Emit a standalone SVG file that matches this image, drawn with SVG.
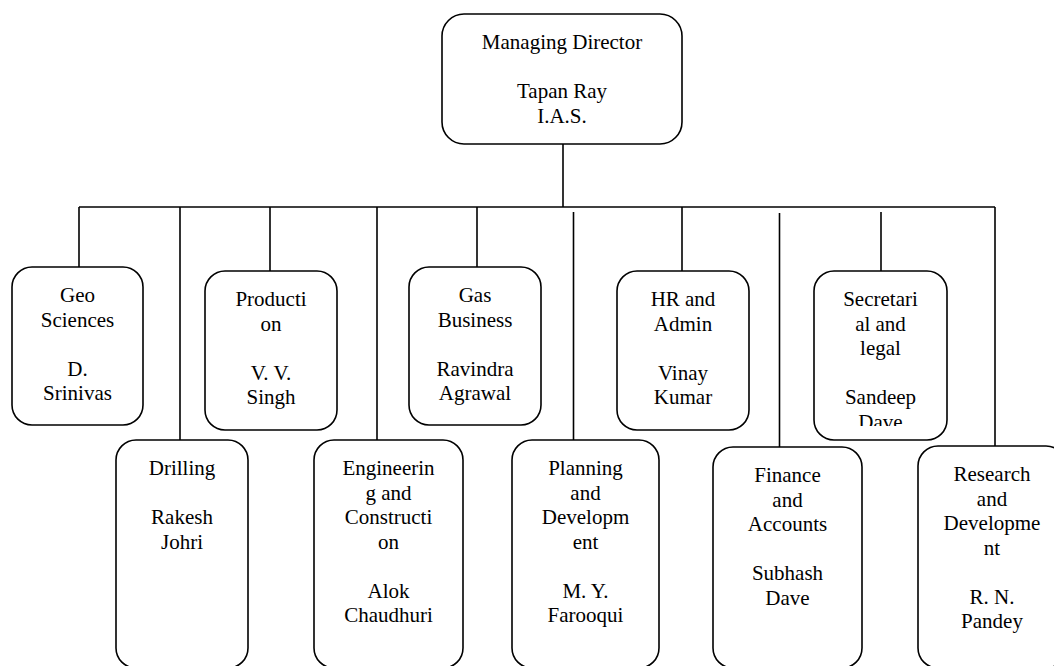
<svg xmlns="http://www.w3.org/2000/svg" width="1054" height="666" viewBox="0 0 1054 666">
<style>
.box{fill:#fff;stroke:#000;stroke-width:1.6}
.ln{stroke:#000;stroke-width:1.6;fill:none}
text{font-family:'Liberation Serif','Times New Roman','DejaVu Serif',serif;font-size:21px;fill:#000;text-anchor:middle}
</style>
<defs>
<clipPath id="secClip"><rect x="800" y="260" width="160" height="166"/></clipPath>
</defs>
<rect width="1054" height="666" fill="#fff"/>
<g id="connectors">
<path class="ln" d="M563,144 V207"/>
<path class="ln" d="M79,207 H995"/>
<path class="ln" d="M79,207 V267"/>
<path class="ln" d="M180,207 V440"/>
<path class="ln" d="M270,207 V271"/>
<path class="ln" d="M377,207 V440"/>
<path class="ln" d="M477,207 V267"/>
<path class="ln" d="M573.5,212 V440"/>
<path class="ln" d="M682,207 V271"/>
<path class="ln" d="M779.5,213 V447"/>
<path class="ln" d="M881,212 V271"/>
<path class="ln" d="M995,207 V446"/>
</g>
<g font-family="Liberation Serif, Times New Roman, serif">
<g id="md">
<rect class="box" x="442" y="14" width="240" height="130" rx="22"/>
<text x="562" y="49">Managing Director</text>
<text x="562" y="98">Tapan Ray</text>
<text x="562" y="122.5">I.A.S.</text>
</g>
<g id="geo">
<rect class="box" x="12" y="267" width="131" height="158" rx="20"/>
<text x="77.5" y="302">Geo</text>
<text x="77.5" y="326.5">Sciences</text>
<text x="77.5" y="375.5">D.</text>
<text x="77.5" y="400">Srinivas</text>
</g>
<g id="production">
<rect class="box" x="205" y="271" width="132" height="159" rx="20"/>
<text x="271" y="306">Producti</text>
<text x="271" y="330.5">on</text>
<text x="271" y="379.5">V. V.</text>
<text x="271" y="404">Singh</text>
</g>
<g id="gas">
<rect class="box" x="409" y="267" width="132" height="158" rx="20"/>
<text x="475" y="302">Gas</text>
<text x="475" y="326.5">Business</text>
<text x="475" y="375.5">Ravindra</text>
<text x="475" y="400">Agrawal</text>
</g>
<g id="hr">
<rect class="box" x="617" y="271" width="132" height="159" rx="20"/>
<text x="683" y="306">HR and</text>
<text x="683" y="330.5">Admin</text>
<text x="683" y="379.5">Vinay</text>
<text x="683" y="404">Kumar</text>
</g>
<g id="secretarial">
<rect class="box" x="814" y="271" width="133" height="169" rx="20"/>
<g clip-path="url(#secClip)">
<text x="880.5" y="306">Secretari</text>
<text x="880.5" y="330.5">al and</text>
<text x="880.5" y="355">legal</text>
<text x="880.5" y="404">Sandeep</text>
<text x="880.5" y="428.5">Dave</text>
</g>
</g>
<g id="drilling">
<rect class="box" x="116" y="440" width="132" height="228" rx="20"/>
<text x="182" y="475">Drilling</text>
<text x="182" y="524">Rakesh</text>
<text x="182" y="548.5">Johri</text>
</g>
<g id="engineering">
<rect class="box" x="314" y="440" width="149" height="228" rx="20"/>
<text x="388.5" y="475">Engineerin</text>
<text x="388.5" y="499.5">g and</text>
<text x="388.5" y="524">Constructi</text>
<text x="388.5" y="548.5">on</text>
<text x="388.5" y="597.5">Alok</text>
<text x="388.5" y="622">Chaudhuri</text>
</g>
<g id="planning">
<rect class="box" x="512" y="440" width="147" height="228" rx="20"/>
<text x="585.5" y="475">Planning</text>
<text x="585.5" y="499.5">and</text>
<text x="585.5" y="524">Developm</text>
<text x="585.5" y="548.5">ent</text>
<text x="585.5" y="597.5">M. Y.</text>
<text x="585.5" y="622">Farooqui</text>
</g>
<g id="finance">
<rect class="box" x="713" y="447" width="149" height="221" rx="20"/>
<text x="787.5" y="482">Finance</text>
<text x="787.5" y="506.5">and</text>
<text x="787.5" y="531">Accounts</text>
<text x="787.5" y="580">Subhash</text>
<text x="787.5" y="604.5">Dave</text>
</g>
<g id="research">
<rect class="box" x="918" y="446" width="148" height="222" rx="20"/>
<text x="992" y="481">Research</text>
<text x="992" y="505.5">and</text>
<text x="992" y="530">Developme</text>
<text x="992" y="554.5">nt</text>
<text x="992" y="603.5">R. N.</text>
<text x="992" y="628">Pandey</text>
</g>
</g>
</svg>
